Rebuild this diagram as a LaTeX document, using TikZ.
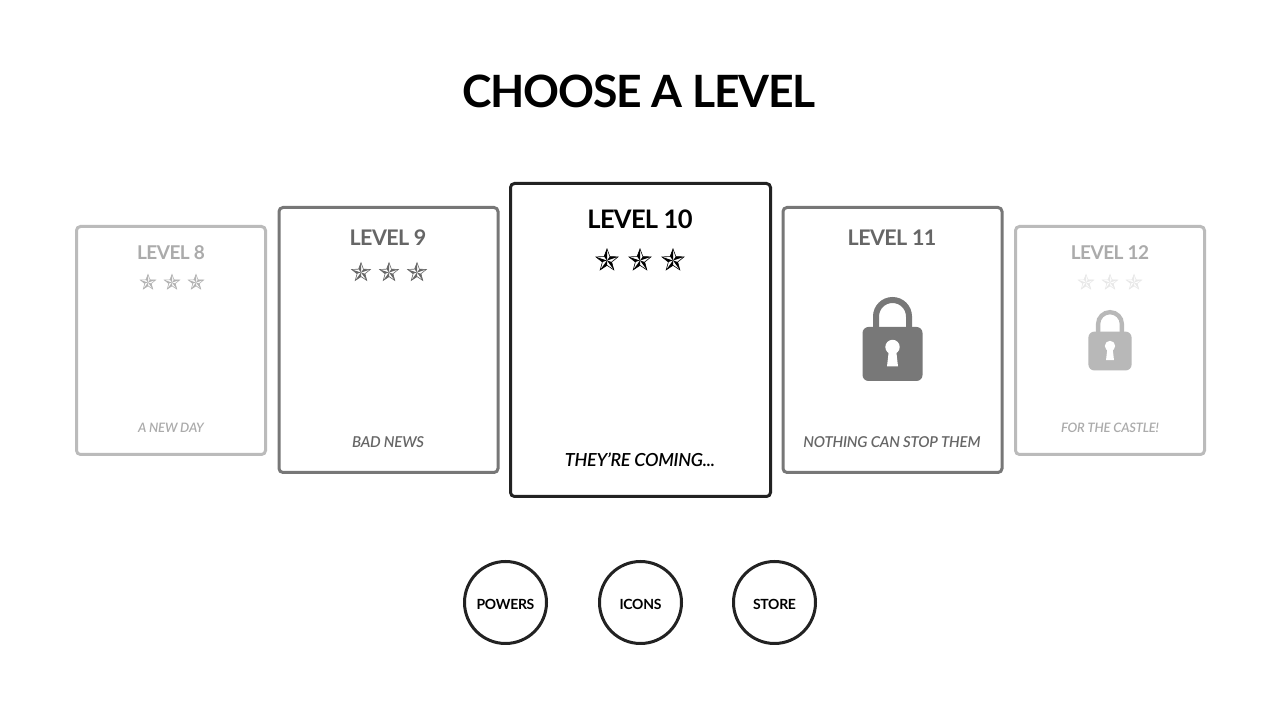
\documentclass[tikz,border=0pt]{standalone}
\usepackage{fontspec}
\setmainfont{Lato}
\newfontfamily\headfont[LetterSpace=-2.7]{Lato Bold}
\newfontfamily\notefont[LetterSpace=-1.5]{Lato Semibold Italic}
\newfontfamily\btnfont[LetterSpace=-2]{Lato Bold}
\definecolor{inkdark}{HTML}{222222}
\definecolor{inkmid}{HTML}{777777}
\definecolor{inklight}{HTML}{BBBBBB}
\definecolor{textmid}{HTML}{666666}
\definecolor{textlight}{HTML}{ABABAB}
\tikzset{
  card/.style={shape=rectangle,draw,line width=3pt,rounded corners=4pt,fill=white,inner sep=0pt},
  roundbtn/.style={shape=circle,draw=inkdark,line width=3pt,minimum size=82pt,inner sep=0pt,
                   text height=14pt,text depth=0pt,font=\fontsize{14}{16}\btnfont},
  pics/levelstar/.style n args={2}{code={
    \fill[white] (90:#1)
      \foreach \a in {0,1,2,3,4} {-- (126+72*\a:0.42*#1) -- (162+72*\a:#1)} -- cycle;
    \foreach \a in {0,1,2,3,4} {
      \fill[#2] (0,0) -- (90+72*\a:#1) -- (126+72*\a:0.42*#1) -- cycle;
    }
    \draw[#2,line width=0.6pt,line join=miter] (90:#1)
      \foreach \a in {0,1,2,3,4} {-- (126+72*\a:0.42*#1) -- (162+72*\a:#1)} -- cycle;
  }},
  pics/padlock/.style n args={2}{code={
    \begin{scope}[scale=#1]
    \draw[#2,line width=#1*6pt] (-16.5,-15) -- (-16.5,30.5) arc (180:0:16.5) -- (16.5,-15);
    \fill[#2] (-30,-34) [rounded corners=6pt] rectangle (30,20);
    \fill[white] (0,0) circle (7.2);
    \fill[white] (-3.5,-2) -- (3.5,-2) -- (5.5,-19.5) -- (-5.5,-19.5) -- cycle;
    \end{scope}
  }}
}
\begin{document}
\begin{tikzpicture}[x=1pt,y=1pt]
\useasboundingbox (0,0) rectangle (1280,720);
\node (title) at (639,629) {\fontsize{44.5}{50}\headfont CHOOSE A LEVEL};
% cards
\node[card,draw=inklight,minimum width=189pt,minimum height=228pt] (card8) at (171,379.5) {};
\node[card,draw=inkmid,minimum width=219pt,minimum height=265pt] (card9) at (388.5,380) {};
\node[card,draw=inkdark,minimum width=260pt,minimum height=313pt] (card10) at (640.5,380) {};
\node[card,draw=inkmid,minimum width=219pt,minimum height=265pt] (card11) at (892.5,380) {};
\node[card,draw=inklight,minimum width=189pt,minimum height=228pt] (card12) at (1110,379.5) {};
% headings
\node[text=textlight] (head8) at (171,467.5) {\fontsize{19}{22}\headfont LEVEL 8};
\node[text=textmid] (head9) at (388,482) {\fontsize{21.5}{25}\headfont LEVEL 9};
\node[text=black] (head10) at (640,501) {\fontsize{25.5}{30}\headfont LEVEL 10};
\node[text=textmid] (head11) at (892,482) {\fontsize{21.5}{25}\headfont LEVEL 11};
\node[text=textlight] (head12) at (1110,467.5) {\fontsize{19}{22}\headfont LEVEL 12};
% stars
\foreach \sx in {148,172,196} \pic at (\sx,437.5) {levelstar={8}{black!30}};
\foreach \sx in {361,389,417} \pic at (\sx,447.5) {levelstar={9.8}{black!60}};
\foreach \sx in {607,640,673} \pic at (\sx,459.5) {levelstar={11.6}{black}};
\foreach \sx in {1086,1110,1134} \pic at (\sx,437.5) {levelstar={8}{black!9}};
% locks
\pic at (892.5,373) {padlock={1}{black!53}};
\pic at (1110,374) {padlock={0.72}{black!28}};
% captions
\node[text=textlight] (note8) at (171,292.5) {\fontsize{13}{16}\notefont A NEW DAY};
\node[text=textmid] (note9) at (388,278) {\fontsize{15}{18}\notefont BAD NEWS};
\node[text=black] (note10) at (640,260.5) {\fontsize{18}{22}\notefont THEY’RE COMING...};
\node[text=textmid] (note11) at (892,278) {\fontsize{15}{18}\notefont NOTHING CAN STOP THEM};
\node[text=textlight] (note12) at (1110,292.5) {\fontsize{13}{16}\notefont FOR THE CASTLE!};
% buttons
\node[roundbtn] (powers) at (505.5,117.5) {POWERS};
\node[roundbtn] (icons) at (640.5,117.5) {ICONS};
\node[roundbtn] (store) at (774.5,117.5) {STORE};
\end{tikzpicture}
\end{document}
